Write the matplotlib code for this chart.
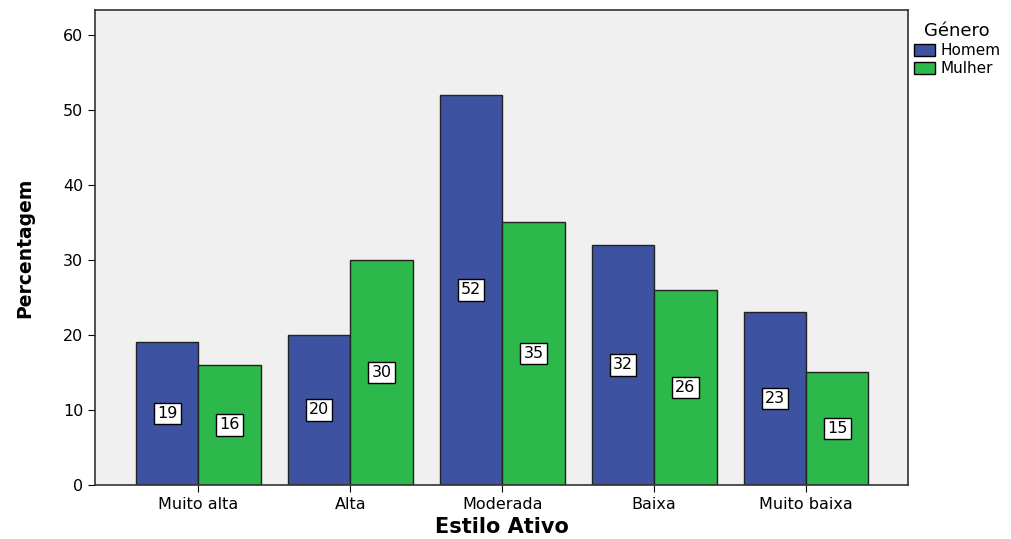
import matplotlib
matplotlib.use('Agg')
import matplotlib.pyplot as plt
import numpy as np
from matplotlib.patches import Patch

# ─── Data ───────────────────────────────────────────────────────────────────
categorias = ['Muito alta', 'Alta', 'Moderada', 'Baixa', 'Muito baixa']
homem = [19, 20, 52, 32, 23]
mulher = [16, 30, 35, 26, 15]
series_names = ['Homem', 'Mulher']

COR_HOMEM = '#3D52A1'
COR_MULHER = '#2DB84B'

fig = plt.figure(figsize=(10.12, 5.39), dpi=100)
ax = fig.add_axes([95 / 1012, 1 - 485 / 539, (908 - 95) / 1012, (485 - 10) / 539])
ax.set_facecolor('#F0F0F0')

x = np.arange(len(categorias))
w = 0.41
bh = ax.bar(x - w / 2, homem, w, color=COR_HOMEM, edgecolor='#222222', linewidth=1)
bm = ax.bar(x + w / 2, mulher, w, color=COR_MULHER, edgecolor='#222222', linewidth=1)

box = dict(boxstyle='square,pad=0.2', facecolor='white', edgecolor='black', linewidth=1)
for bars, vals in [(bh, homem), (bm, mulher)]:
    for b, v in zip(bars, vals):
        ax.text(b.get_x() + b.get_width() / 2, v / 2, str(v), ha='center', va='center',
                fontsize=11.5, bbox=box)

ax.set_xlim(-0.68, 4.67)
ax.set_ylim(0, 63.3)
ax.set_yticks(range(0, 61, 10))
ax.set_xticks(x)
ax.set_xticklabels(categorias, fontsize=11.5)
ax.tick_params(axis='y', labelsize=11.5, length=5)
ax.tick_params(axis='x', length=5)
for s in ax.spines.values():
    s.set_linewidth(1.2)
    s.set_color('#333333')

ax.set_xlabel('Estilo Ativo', fontsize=15, fontweight='bold', va='center')
ax.xaxis.set_label_coords(0.5, -0.088)
ax.set_ylabel('Percentagem', fontsize=13.5, fontweight='bold')
ax.yaxis.set_label_coords(-0.075, 0.5)

handles = [Patch(facecolor=COR_HOMEM, edgecolor='black'),
           Patch(facecolor=COR_MULHER, edgecolor='black')]
leg = fig.legend(handles, series_names, title='Género', loc='upper left',
                 bbox_to_anchor=(908 / 1012, 1 - 16 / 539), frameon=False,
                 fontsize=11, title_fontsize=13, handlelength=1.4, handleheight=0.9,
                 handletextpad=0.3, labelspacing=0.2, borderaxespad=0)

fig.savefig('out.png', dpi=100)
